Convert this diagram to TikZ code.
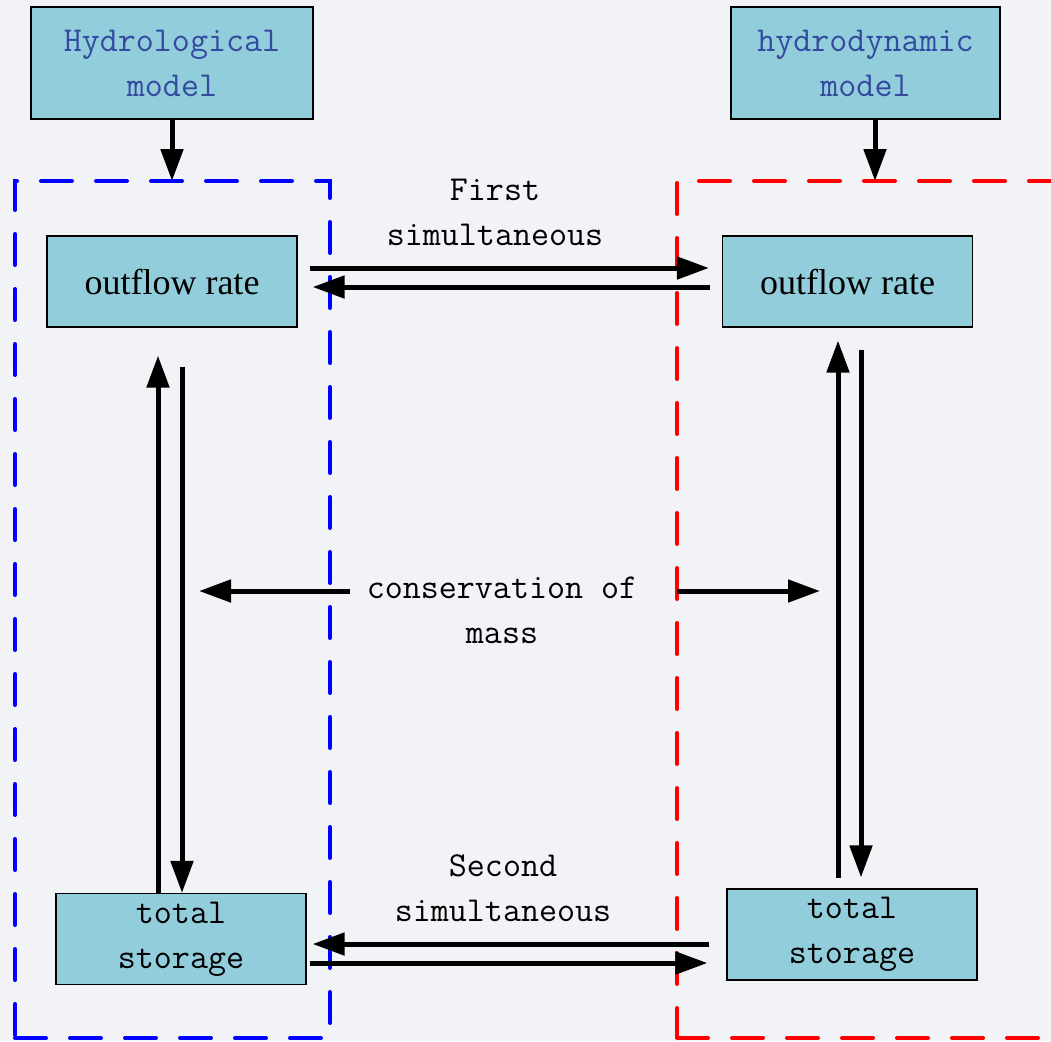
\documentclass[tikz,border=0pt]{standalone}
\usepackage{fontspec}
\setmainfont{Liberation Serif}
\usetikzlibrary{shapes,arrows.meta,positioning,fit}
\definecolor{bg}{RGB}{242,243,247}
\definecolor{boxblue}{RGB}{146,205,219}
\definecolor{textblue}{RGB}{52,74,158}
\newcommand{\monotext}{\ttfamily\fontsize{17.5}{22.5}\selectfont}
\newcommand{\serftext}{\rmfamily\fontsize{18}{22}\selectfont}
\tikzstyle{modelbox} = [rectangle, draw, fill=boxblue, line width=0.6pt,
    minimum height=56pt, align=center, text=textblue, font=\monotext]
\tikzstyle{block} = [rectangle, draw, fill=boxblue, line width=0.6pt,
    minimum width=125pt, minimum height=45.5pt, align=center]
\tikzstyle{line} = [draw, line width=2.5pt, -{Triangle[length=16pt,width=11pt]}]
\tikzstyle{frame} = [draw, line width=2pt, dash pattern=on 15.5pt off 12pt,
    line cap=round, outer sep=0pt, inner sep=0pt]
\tikzstyle{note} = [align=center, font=\monotext, inner sep=0pt]
\begin{document}
\begin{tikzpicture}[x=0.5pt, y=-0.5pt]
	\path[use as bounding box, fill=bg] (0,0) rectangle (1051,1041);
	\clip (0,0) rectangle (1051,1041);
	% Frames
	\node [frame, blue, minimum width=157.5pt, minimum height=428.5pt] (frameL) at (172.5,609.5) {};
	\node [frame, red, minimum width=211.5pt, minimum height=428.5pt] (frameR) at (888.5,609.5) {};
	% Place nodes
	\node [modelbox, minimum width=141pt] (hydro) at (172,63) {Hydrological\\model};
	\node [modelbox, minimum width=134.5pt] (dyn) at (865.5,63) {hydrodynamic\\model};
	\node [block, font=\serftext] (outL) at (172,281.5) {outflow rate};
	\node [block, font=\serftext] (outR) at (847.5,281.5) {outflow rate};
	\node [block, font=\monotext] (totL) at (181,939) {total\\storage};
	\node [block, font=\monotext] (totR) at (852,934.5) {total\\storage};
	\node [note] (first) at (495,212) {First\\simultaneous};
	\node [note] (second) at (503,888) {Second\\simultaneous};
	\node [note] (cons) at (502,610) {conservation of\\mass};
	\coordinate (massL) at (199,591);
	\coordinate (massR) at (820,591);
	% Draw edges
	\path [line] (hydro.south) -- (hydro.south |- frameL.north);
	\path [line] ([xshift=4.75pt]dyn.south) -- ([xshift=4.75pt]dyn.south |- frameR.north);
	\path [line, shorten <=6pt, shorten >=6.5pt] ([yshift=6.75pt]outL.east) -- ([yshift=6.75pt]outR.west);
	\path [line, shorten <=6pt, shorten >=7.5pt] ([yshift=-2.75pt]outR.west) -- ([yshift=-2.75pt]outL.east);
	\path [line, shorten >=14pt] ([xshift=-11.5pt]totL.north) -- ([xshift=-11.5pt]totL.north |- outL.south);
	\path [line, shorten <=19.5pt] ([xshift=5pt]outL.south) -- ([xshift=5pt]outL.south |- totL.north);
	\path [line, shorten <=5pt, shorten >=6.5pt] ([xshift=-7pt]totR.north) -- ([xshift=-7pt]totR.north |- outR.south);
	\path [line, shorten <=11pt, shorten >=5.5pt] ([xshift=6.75pt]outR.south) -- ([xshift=6.75pt]outR.south |- totR.north);
	\path [line, shorten <=8.5pt, shorten >=3pt] ([yshift=-2.5pt]totL.east -| totR.west) -- ([yshift=-2.5pt]totL.east);
	\path [line, shorten <=1.5pt, shorten >=9.5pt] ([yshift=-12pt]totL.east) -- ([yshift=-12pt]totL.east -| totR.west);
	\path [line, shorten <=8pt] (cons.west |- massL) -- (massL);
	\path [line] (frameR.west |- massR) -- (massR);
\end{tikzpicture}
\end{document}
